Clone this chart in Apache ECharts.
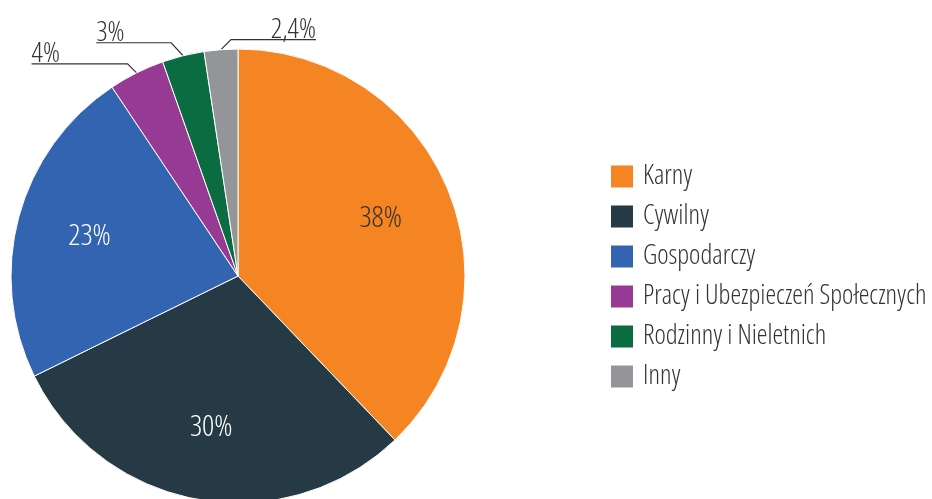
<!DOCTYPE html>
<html>
<head>
<meta charset="utf-8">
<script src="https://cdn.jsdelivr.net/npm/echarts@6/dist/echarts.min.js"></script>
<style>
  html, body { margin: 0; padding: 0; background: #fff; }
  #chart { width: 932px; height: 499px; }
</style>
</head>
<body>
<div id="chart"></div>
<script>
// dane
var categories = ['Karny', 'Cywilny', 'Gospodarczy', 'Pracy i Ubezpieczeń Społecznych', 'Rodzinny i Nieletnich', 'Inny'];
var values = [38, 30, 23, 4, 3, 2.4];
var colors = ['#f58422', '#253a44', '#3264b1', '#973a93', '#0b6b41', '#939598'];

// etykiety w środku / na zewnątrz
var insideLabels = ['Karny', 'Cywilny', 'Gospodarczy'];
var insideColors = { 'Karny': '#333333', 'Cywilny': '#ffffff', 'Gospodarczy': '#ffffff' };
// linie odniesienia: [dx, dy, długość poziomej]
var leaders = {
    'Pracy i Ubezpieczeń Społecznych': [-9, -9, -96],
    'Rodzinny i Nieletnich': [-12, -13, -75],
    'Inny': [10, -10, 85]
};

// Open Sans w wersji zwężonej i cienkiej
var font = "'Open Sans'";
var weight = 'condensed 300';
var center = [238, 276];

var chart = echarts.init(document.getElementById('chart'));

var pieData = categories.map(function (name, i) {
    var inside = insideLabels.indexOf(name) >= 0;
    return {
        name: name,
        value: values[i],
        label: inside
            ? { position: 'inside', color: insideColors[name], fontSize: 30 }
            : { position: 'outside', color: '#333', fontSize: 28 },
        labelLine: { show: !inside }
    };
});

var option = {
    color: colors,
    animation: false,
    legend: {
        orient: 'vertical',
        left: 604,
        top: 158,
        itemWidth: 24,
        itemHeight: 24,
        itemGap: 13,
        icon: 'rect',
        data: categories,
        textStyle: {
            fontFamily: font,
            fontWeight: weight,
            fontSize: 27,
            lineHeight: 24,
            color: '#333',
            padding: [0, 0, 0, 4]
        }
    },
    series: [{
        name: 'Sprawy',
        type: 'pie',
        center: center,
        radius: 227,
        startAngle: 90,
        clockwise: true,
        silent: true,
        avoidLabelOverlap: false,
        itemStyle: { borderColor: '#fff', borderWidth: 1 },
        label: {
            fontFamily: font,
            fontWeight: weight,
            overflow: 'none',
            formatter: function (p) {
                return String(p.value).replace('.', ',') + '%';
            }
        },
        labelLine: {
            length: 12,
            length2: 60,
            lineStyle: { color: '#333', width: 1.2 }
        },
        labelLayout: function (params) {
            var name = categories[params.dataIndex];
            var r = params.labelRect;
            if (insideLabels.indexOf(name) >= 0) {
                // przesunięcie etykiety dalej od środka
                var k = 1.32;
                var mx = r.x + r.width / 2, my = r.y + r.height / 2;
                return {
                    x: center[0] + (mx - center[0]) * k,
                    y: center[1] + (my - center[1]) * k,
                    align: 'center',
                    verticalAlign: 'middle'
                };
            }
            var pts = params.labelLinePoints;
            if (!pts) return {};
            var l = leaders[name];
            var p0 = pts[0];
            var p1 = [p0[0] + l[0], p0[1] + l[1]];
            var p2 = [p1[0] + l[2], p1[1]];
            return {
                x: p2[0],
                y: p2[1] + 4,
                align: l[2] > 0 ? 'right' : 'left',
                verticalAlign: 'bottom',
                labelLinePoints: [p0, p1, p2]
            };
        },
        data: pieData
    }]
};

chart.setOption(option);
</script>
</body>
</html>
